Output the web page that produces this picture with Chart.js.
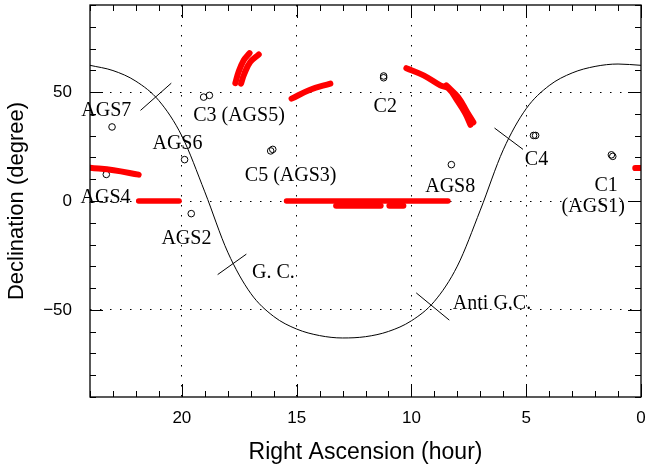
<!DOCTYPE html>
<html>
<head>
<meta charset="utf-8">
<script src="https://cdn.jsdelivr.net/npm/chart.js@4/dist/chart.umd.min.js"></script>
<style>
  html, body { margin: 0; padding: 0; background: #fff; }
</style>
</head>
<body>
<canvas id="skyChart" width="646" height="472"></canvas>
<script>
// galactic plane, read once per hour of RA
const gpRa  = [0, 1, 2, 3, 4, 5, 6, 7, 8, 9, 10, 11, 12, 13, 14, 15, 16, 17, 18, 19, 20, 21, 22, 23, 24];
const gpDec = [62.3, 62.9, 61.8, 58.8, 53.0, 42.4, 23.5, -4.2, -29.9, -46.1, -55.0, -59.9, -62.3,
               -62.9, -61.8, -58.8, -53.0, -42.4, -23.5, 4.2, 29.9, 46.1, 55.0, 59.9, 62.3];

// short marks across the plane
const crossRa  = [[21.80, 20.46], [18.44, 17.19], [9.79, 8.35], [6.38, 5.14]];
const crossDec = [[41.6, 54.1], [-33.8, -24.4], [-42.2, -54.7], [33.5, 23.7]];

// red scan tracks
const trackRa = [
    [17.67, 17.53, 17.31, 17.05],
    [17.42, 17.28, 17.02, 16.65],
    [15.22, 14.41, 13.53],
    [10.22, 9.47, 8.74, 8.38, 8.01, 7.65, 7.43],
    [8.48, 7.96, 7.57, 7.30],
    [24.0, 22.97, 21.88],
    [0.25, 0.0],
    [21.88, 20.12],
    [15.44, 8.41],
    [13.28, 11.34],
    [10.96, 10.35]
];
const trackDec = [
    [54.1, 59.2, 64.5, 67.9],
    [53.9, 58.4, 63.8, 67.3],
    [47.0, 51.1, 53.9],
    [61.0, 57.7, 53.1, 51.6, 46.2, 40.1, 35.0],
    [53.1, 47.6, 40.7, 36.1],
    [15.3, 14.1, 12.1],
    [15.1, 15.2],
    [0, 0],
    [0, 0],
    [-2.2, -2.2],
    [-2.2, -2.2]
];

// sources (open circles)
const srcRa  = [23.04, 19.05, 18.80, 19.88, 23.29, 19.59, 16.13, 16.04, 11.21, 11.21, 8.26, 4.68, 4.59, 1.29, 1.23];
const srcDec = [34.0, 47.7, 48.5, 19.0, 12.2, -5.8, 23.0, 23.7, 57.4, 56.6, 16.7, 30.1, 30.1, 21.2, 20.5];

// text labels
const labelText = ['AGS7', 'C3 (AGS5)', 'AGS6', 'AGS4', 'AGS2', 'C5 (AGS3)', 'G. C.', 'C2', 'AGS8', 'C4', 'C1', '(AGS1)', 'Anti G.C.'];
const labelRa   = [23.29, 17.51, 20.19, 23.32, 19.80, 15.26, 16.01, 11.14, 8.31, 4.55, 1.52, 2.08, 6.49];
const labelDec  = [41.6, 39.3, 26.3, 1.4, -17.2, 11.8, -32.8, 43.4, 6.4, 19.0, 7.2, -2.75, -47.1];

const trackWidth = [6, 6, 6, 6, 6, 6, 6, 5.5, 5.5, 6, 6];

const pts = (xs, ys) => xs.map((x, i) => ({ x, y: ys[i] }));

const datasets = [];

trackRa.forEach((ra, i) => {
    datasets.push({
        type: 'line',
        data: pts(ra, trackDec[i]),
        borderColor: '#ff0000',
        borderWidth: trackWidth[i],
        borderCapStyle: 'round',
        borderJoinStyle: 'round',
        tension: 0.4,
        pointRadius: 0
    });
});

datasets.push({
    type: 'line',
    data: pts(gpRa, gpDec),
    borderColor: '#000',
    borderWidth: 1,
    cubicInterpolationMode: 'monotone',
    pointRadius: 0
});

crossRa.forEach((ra, i) => {
    datasets.push({
        type: 'line',
        data: pts(ra, crossDec[i]),
        borderColor: '#000',
        borderWidth: 1,
        pointRadius: 0
    });
});

datasets.push({
    type: 'scatter',
    data: pts(srcRa, srcDec),
    pointStyle: 'circle',
    pointRadius: 3.3,
    borderColor: '#000',
    borderWidth: 1,
    backgroundColor: 'rgba(0,0,0,0)'
});

const sans = '"Liberation Sans", Arial, sans-serif';

// inward ticks, frame and labels
const framePlugin = {
    id: 'frame',
    afterDraw(chart) {
        const { ctx, chartArea: a, scales: { x, y } } = chart;
        ctx.save();
        ctx.strokeStyle = '#000';
        ctx.lineWidth = 1;
        ctx.beginPath();
        x.ticks.forEach(t => {
            const px = Math.round(x.getPixelForValue(t.value)) + 0.5;
            const len = t.value % 5 === 0 ? 13 : 6;
            ctx.moveTo(px, a.bottom); ctx.lineTo(px, a.bottom - len);
            ctx.moveTo(px, a.top); ctx.lineTo(px, a.top + len);
        });
        y.ticks.forEach(t => {
            const py = Math.round(y.getPixelForValue(t.value)) + 0.5;
            const len = t.value % 50 === 0 ? 13 : 6;
            ctx.moveTo(a.left, py); ctx.lineTo(a.left + len, py);
            ctx.moveTo(a.right, py); ctx.lineTo(a.right - len, py);
        });
        ctx.stroke();
        ctx.lineWidth = 1.3;
        ctx.strokeRect(a.left, a.top, a.right - a.left, a.bottom - a.top);

        ctx.fillStyle = '#000';
        ctx.font = '20px "Liberation Serif", "Times New Roman", serif';
        ctx.textAlign = 'center';
        ctx.textBaseline = 'middle';
        labelText.forEach((txt, i) => {
            ctx.fillText(txt, x.getPixelForValue(labelRa[i]), y.getPixelForValue(labelDec[i]));
        });
        ctx.restore();
    }
};

new Chart(document.getElementById('skyChart'), {
    data: { datasets },
    plugins: [framePlugin],
    options: {
        responsive: false,
        animation: false,
        layout: { padding: { top: 4, right: 5, left: 0, bottom: 0 } },
        plugins: { legend: { display: false }, tooltip: { enabled: false } },
        scales: {
            x: {
                type: 'linear',
                reverse: true,
                min: 0,
                max: 24,
                z: 1,
                ticks: {
                    stepSize: 1,
                    autoSkip: false,
                    maxRotation: 0,
                    padding: 11,
                    color: '#000',
                    font: { family: sans, size: 17 },
                    callback: v => (v % 5 === 0 && v < 24) ? String(v) : ''
                },
                grid: {
                    drawTicks: false,
                    lineWidth: 1,
                    color: c => (c.tick && c.tick.value % 5 === 0 && c.tick.value > 0 && c.tick.value < 24) ? '#000' : 'rgba(0,0,0,0)'
                },
                border: { display: false, dash: [1.5, 8.5] },
                title: {
                    display: true,
                    text: 'Right Ascension (hour)',
                    color: '#000',
                    font: { family: sans, size: 23 },
                    padding: { top: 4, bottom: 6 }
                },
                afterFit: s => {
                    s.height = 75;
                    s.paddingLeft = 0;
                    s.paddingRight = 0;
                }
            },
            y: {
                type: 'linear',
                min: -90,
                max: 90,
                z: 1,
                ticks: {
                    stepSize: 10,
                    autoSkip: false,
                    padding: 18,
                    color: '#000',
                    font: { family: sans, size: 17 },
                    callback: v => v === 0 ? '0' : v === 50 ? '50' : v === -50 ? '\u221250' : ''
                },
                grid: {
                    drawTicks: false,
                    lineWidth: 1,
                    color: c => (c.tick && Math.abs(c.tick.value) % 50 === 0 && Math.abs(c.tick.value) < 90) ? '#000' : 'rgba(0,0,0,0)'
                },
                border: { display: false, dash: [1.5, 8.5] },
                title: {
                    display: true,
                    text: 'Declination (degree)',
                    color: '#000',
                    font: { family: sans, size: 22 },
                    padding: { top: 4, bottom: 4 }
                },
                afterFit: s => {
                    s.width = 90;
                    s.paddingTop = 0;
                    s.paddingBottom = 0;
                }
            }
        }
    }
});
</script>
</body>
</html>
